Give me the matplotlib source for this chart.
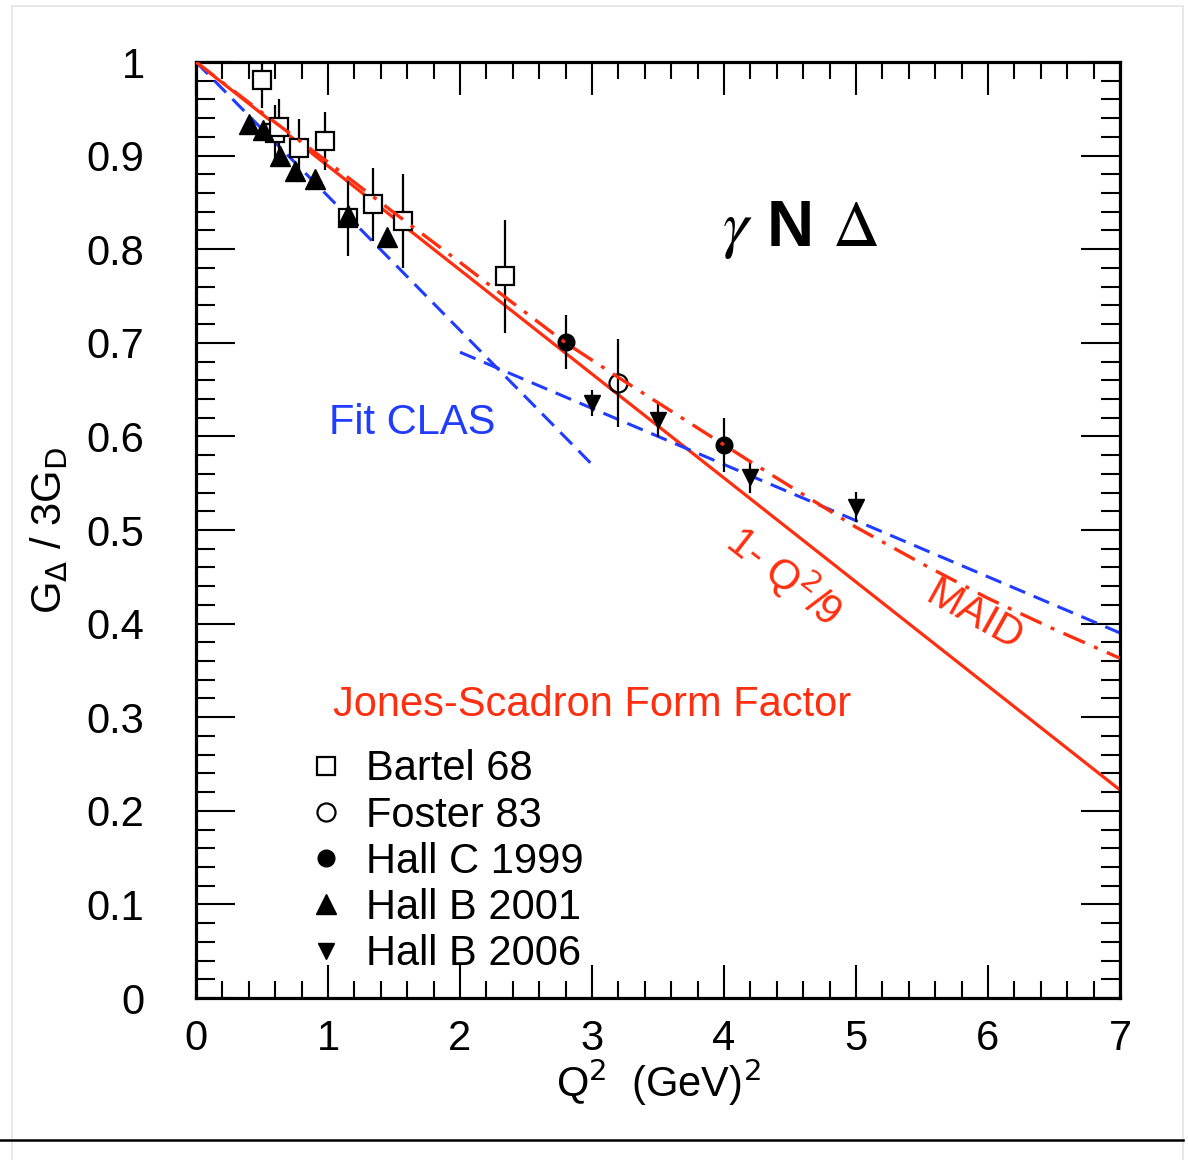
import numpy as np
import matplotlib
matplotlib.use("Agg")
import matplotlib.pyplot as plt
from matplotlib.ticker import MultipleLocator
from matplotlib.lines import Line2D
from matplotlib.patches import Rectangle

plt.rcParams['font.family'] = ['Liberation Sans', 'DejaVu Sans']

RED = '#ff2e0e'
BLUE = '#1f3cff'
FS = 30

# Bartel 68
bartel_q2 = [0.50, 0.60, 0.63, 0.78, 0.98, 1.15, 1.34, 1.57, 2.34]
bartel_g = [0.981, 0.924, 0.931, 0.908, 0.916, 0.833, 0.848, 0.830, 0.771]
bartel_err = [0.030, 0.030, 0.030, 0.031, 0.031, 0.040, 0.039, 0.050, 0.060]

# Foster 83
foster_q2 = [3.20]
foster_g = [0.657]
foster_err = [0.047]

# Hall C 1999
hallc_q2 = [2.80, 4.00]
hallc_g = [0.701, 0.591]
hallc_err = [0.029, 0.029]

# Hall B 2001
hallb01_q2 = [0.40, 0.51, 0.64, 0.75, 0.90, 1.15, 1.45]
hallb01_g = [0.934, 0.927, 0.900, 0.884, 0.875, 0.837, 0.813]
hallb01_err = [0.006, 0.006, 0.006, 0.006, 0.006, 0.008, 0.008]

# Hall B 2006
hallb06_q2 = [3.00, 3.50, 4.20, 5.00]
hallb06_g = [0.636, 0.618, 0.557, 0.525]
hallb06_err = [0.014, 0.019, 0.018, 0.016]

# curves
jsff_q2 = [0.0, 7.0]
maid_q2 = [0.0, 0.5, 1.0, 1.5, 2.0, 2.34, 2.8, 3.2, 3.5, 4.0, 4.2, 5.0, 5.5, 6.0, 6.5, 7.0]
maid_g = [1.0, 0.946, 0.893, 0.839, 0.786, 0.749, 0.700, 0.663, 0.636, 0.591, 0.573,
          0.503, 0.464, 0.427, 0.394, 0.363]
clas_low_q2 = [0.0, 3.0]
clas_low_g = [1.0, 0.570]
clas_high_q2 = [2.0, 7.0]
clas_high_g = [0.690, 0.390]

fig = plt.figure(figsize=(11.88, 11.6), dpi=100)
ax = fig.add_axes([196 / 1188, 1 - 998 / 1160, 924 / 1188, 936 / 1160])

# page frame and rule line
fig.patches.append(Rectangle((12 / 1188, -0.01), 1171 / 1188, 1.0 - 6 / 1160 + 0.01,
                             transform=fig.transFigure, fill=False,
                             edgecolor='#e4e4e4', lw=1.2))
fig.lines.append(Line2D([0, 1183 / 1188], [1 - 1140 / 1160] * 2,
                        transform=fig.transFigure, color='black', lw=1.8))

# model curves
q = np.array(jsff_q2)
ax.plot(q, 1 - q / 9, color=RED, lw=2.3)
ax.plot(clas_low_q2, clas_low_g, color=BLUE, lw=2.2, ls=(0, (5.5, 3)))
ax.plot(clas_high_q2, clas_high_g, color=BLUE, lw=2.2, ls=(0, (5.5, 3)))

eb = dict(ecolor='black', elinewidth=1.6, capsize=0, ls='none', zorder=4)
ax.errorbar(bartel_q2, bartel_g, yerr=bartel_err, fmt='s', ms=13, mfc='white',
            mec='black', mew=1.6, label='Bartel 68', **eb)
ax.errorbar(foster_q2, foster_g, yerr=foster_err, fmt='o', ms=13, mfc='none',
            mec='black', mew=1.6, label='Foster 83', **eb)
ax.errorbar(hallc_q2, hallc_g, yerr=hallc_err, fmt='o', ms=12, color='black',
            label='Hall C 1999', **eb)
ax.errorbar(hallb01_q2, hallb01_g, yerr=hallb01_err, fmt='^', ms=14, color='black',
            label='Hall B 2001', **eb)
ax.errorbar(hallb06_q2, hallb06_g, yerr=hallb06_err, fmt='v', ms=12, color='black',
            label='Hall B 2006', **eb)

# MAID on top of the points
ax.plot(maid_q2, maid_g, color=RED, lw=2.4, ls=(0, (7, 3, 1.2, 3)), zorder=5)

ax.set_xlim(0, 7)
ax.set_ylim(0, 1)
ax.xaxis.set_major_locator(MultipleLocator(1))
ax.xaxis.set_minor_locator(MultipleLocator(0.2))
ax.yaxis.set_minor_locator(MultipleLocator(0.02))
ax.set_yticks(np.arange(0, 1.01, 0.1))
ax.set_yticklabels(['0'] + ['%.1f' % v for v in np.arange(0.1, 0.95, 0.1)] + ['1'])
ax.tick_params(which='both', direction='in', top=True, right=True, width=1.5)
ax.tick_params(axis='x', which='major', length=24, labelsize=FS, pad=15)
ax.tick_params(axis='x', which='minor', length=12)
ax.tick_params(axis='y', which='major', length=28, labelsize=FS, pad=37)
ax.tick_params(axis='y', which='minor', length=14)
for s in ax.spines.values():
    s.set_linewidth(2.3)

ax.set_xlabel(r'Q$^2$  (GeV)$^2$', fontsize=FS, labelpad=-2)
ax.set_ylabel(r'G$_\Delta$ / 3G$_\mathrm{D}$', fontsize=FS, labelpad=12)

ax.text(4.58, 0.82, r'$\gamma$ N $\Delta$', fontsize=47, fontweight='bold',
        math_fontfamily='stix', ha='center', va='center')
ax.text(1.64, 0.614, 'Fit CLAS', color=BLUE, fontsize=FS, ha='center', va='center')
ax.text(3.0, 0.313, 'Jones-Scadron Form Factor', color=RED, fontsize=FS,
        ha='center', va='center')
ax.text(4.46, 0.452, r'1- Q$^2$/9', color=RED, fontsize=FS, rotation=-38,
        ha='center', va='center', rotation_mode='anchor')
ax.text(5.90, 0.407, 'MAID', color=RED, fontsize=FS, rotation=-29,
        ha='center', va='center', rotation_mode='anchor')

handles, labels = ax.get_legend_handles_labels()
handles = [h[0] for h in handles]
ax.legend(handles, labels, loc='upper left', bbox_to_anchor=(0.105, 0.288),
          frameon=False, fontsize=FS, handlelength=0.6, handletextpad=0.66,
          labelspacing=0.15, borderpad=0, markerscale=1.0)

fig.savefig('out.png', dpi=100)
